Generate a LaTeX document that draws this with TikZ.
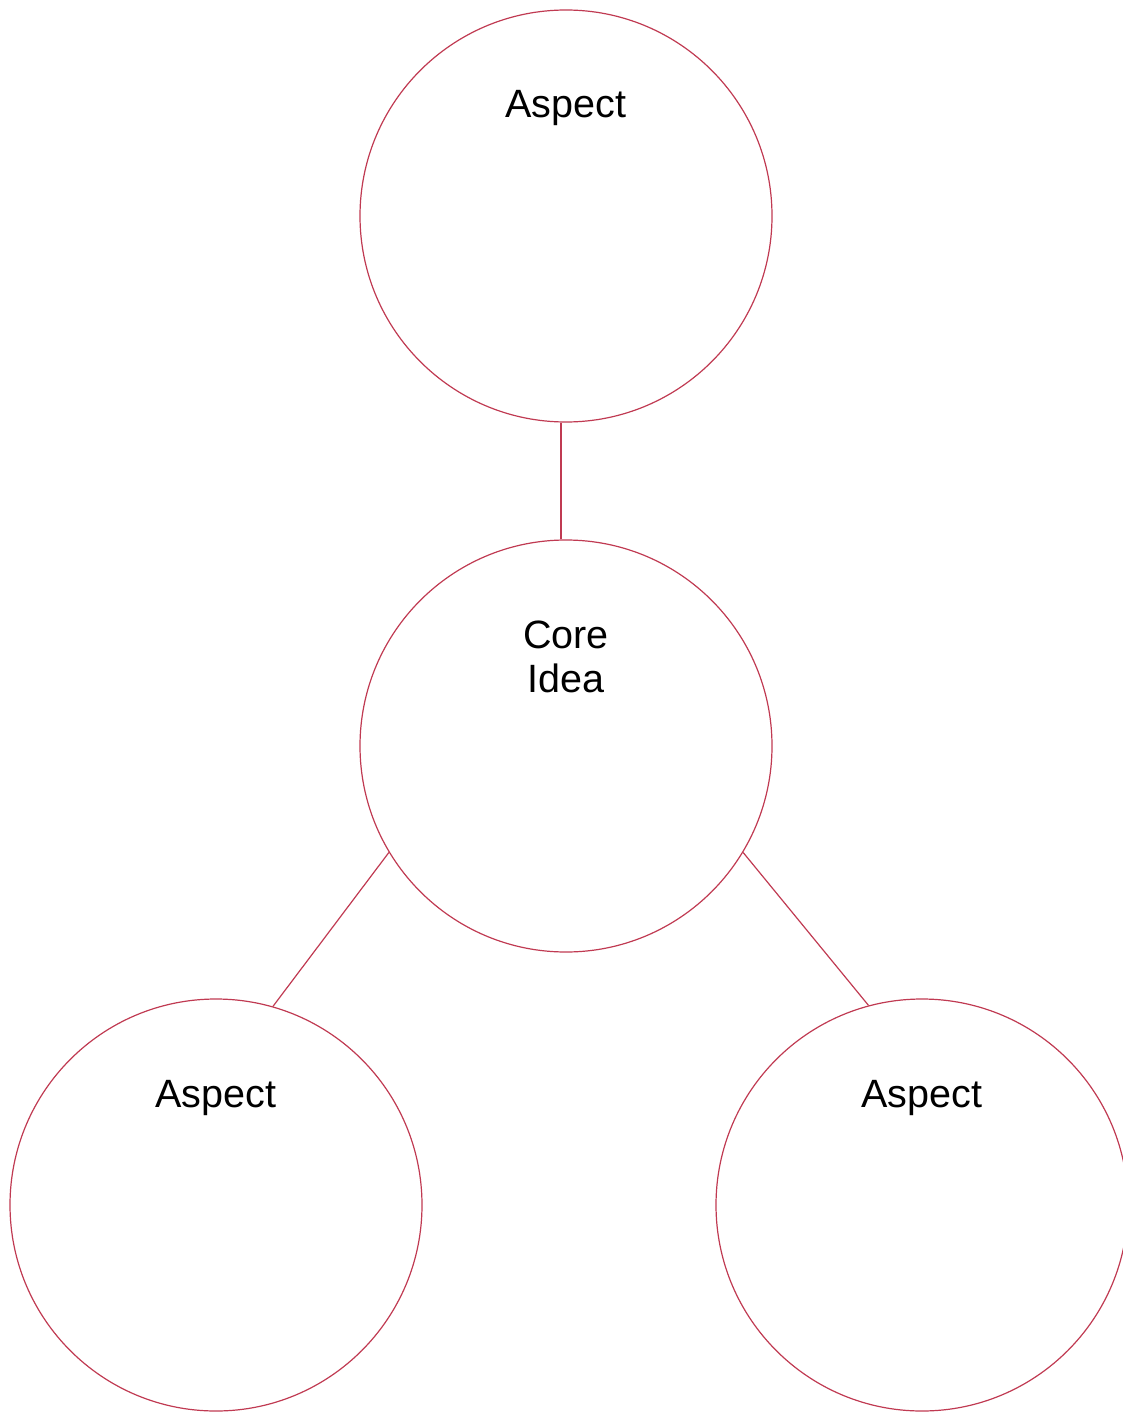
\documentclass[tikz,border=0pt]{standalone}
\usepackage{fontspec}
\setmainfont{Liberation Sans}
\definecolor{ring}{RGB}{192,58,82}
\begin{document}
\begin{tikzpicture}[x=1pt,y=-1pt,
  bubble/.style={circle,draw=ring,line width=1.2pt,minimum size=412pt,inner sep=0pt},
  link/.style={draw=ring,line width=1.2pt},
  label/.style={font=\fontsize{39.5}{44}\selectfont,anchor=base,align=center,inner sep=0pt}]
\useasboundingbox (0,0) rectangle (1122,1412);
\node[bubble] (top) at (566,216) {};
\node[bubble] (core) at (566,746) {};
\node[bubble] (bl) at (216,1205) {};
\node[bubble] (br) at (922,1205) {};
\node[label] (ttop) at (566,118) {Aspect};
\node[label] (tcore) at (566,692) {Core\\Idea};
\node[label] (tbl) at (216,1107) {Aspect};
\node[label] (tbr) at (922,1107) {Aspect};
\draw[link] ([xshift=-5pt]top.south) -- ([xshift=-5pt]core.north);
\draw[link] (core.211.8) -- (bl.74.3);
\draw[link] (core.329) -- (br.105.7);
\end{tikzpicture}
\end{document}
